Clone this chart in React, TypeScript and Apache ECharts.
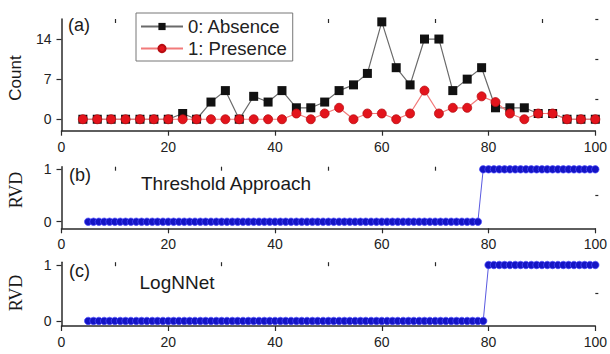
import React, { useEffect, useRef } from "react";
import * as echarts from "echarts";

// Panel (a): histogram-like counts
const xA = [4, 6.7, 9.3, 12, 14.7, 17.3, 20, 22.7, 25.3, 28, 30.7, 33.3, 36, 38.7, 41.3, 44, 46.7, 49.3, 52, 54.7, 57.3, 60, 62.7, 65.3, 68, 70.7, 73.3, 76, 78.7, 81.3, 84, 86.7, 89.3, 92, 94.7, 97.3, 100];
const absence = [0, 0, 0, 0, 0, 0, 0, 1, 0, 3, 5, 0, 4, 3, 5, 2, 2, 3, 5, 6, 8, 17, 9, 6, 14, 14, 5, 7, 9, 2, 2, 2, 1, 1, 0, 0, 0];
const presence = [0, 0, 0, 0, 0, 0, 0, 0, 0, 0, 0, 0, 0, 0, 0, 1, 0, 1, 2, 0, 1, 1, 0, 1, 5, 1, 2, 2, 4, 3, 1, 0, 1, 1, 0, 0, 0];

// Panels (b), (c): RVD
const xR = [
  5, 6, 7, 8, 9, 10, 11, 12, 13, 14,
  15, 16, 17, 18, 19, 20, 21, 22, 23, 24,
  25, 26, 27, 28, 29, 30, 31, 32, 33, 34,
  35, 36, 37, 38, 39, 40, 41, 42, 43, 44,
  45, 46, 47, 48, 49, 50, 51, 52, 53, 54,
  55, 56, 57, 58, 59, 60, 61, 62, 63, 64,
  65, 66, 67, 68, 69, 70, 71, 72, 73, 74,
  75, 76, 77, 78, 79, 80, 81, 82, 83, 84,
  85, 86, 87, 88, 89, 90, 91, 92, 93, 94,
  95, 96, 97, 98, 99, 100,
];
const rvdThreshold = [
  0, 0, 0, 0, 0, 0, 0, 0, 0, 0,
  0, 0, 0, 0, 0, 0, 0, 0, 0, 0,
  0, 0, 0, 0, 0, 0, 0, 0, 0, 0,
  0, 0, 0, 0, 0, 0, 0, 0, 0, 0,
  0, 0, 0, 0, 0, 0, 0, 0, 0, 0,
  0, 0, 0, 0, 0, 0, 0, 0, 0, 0,
  0, 0, 0, 0, 0, 0, 0, 0, 0, 0,
  0, 0, 0, 0, 1, 1, 1, 1, 1, 1,
  1, 1, 1, 1, 1, 1, 1, 1, 1, 1,
  1, 1, 1, 1, 1, 1,
];
const rvdLogNNet = [
  0, 0, 0, 0, 0, 0, 0, 0, 0, 0,
  0, 0, 0, 0, 0, 0, 0, 0, 0, 0,
  0, 0, 0, 0, 0, 0, 0, 0, 0, 0,
  0, 0, 0, 0, 0, 0, 0, 0, 0, 0,
  0, 0, 0, 0, 0, 0, 0, 0, 0, 0,
  0, 0, 0, 0, 0, 0, 0, 0, 0, 0,
  0, 0, 0, 0, 0, 0, 0, 0, 0, 0,
  0, 0, 0, 0, 0, 1, 1, 1, 1, 1,
  1, 1, 1, 1, 1, 1, 1, 1, 1, 1,
  1, 1, 1, 1, 1, 1,
];

const xTicks = [0, 20, 40, 60, 80, 100];
const xMinorTicks = [10, 30, 50, 70, 90];
const countTicks = [0, 7, 14];
const countMinorTicks = [3.5, 10.5, 17.5];
const rvdTicks = [0, 1];
const rvdMinorTicks = [0.5];

const SANS = "Liberation Sans, Arial, sans-serif";
const SERIF = "Liberation Serif, Times New Roman, serif";
const AXIS_COLOR = "#2a2a2a";

const zip = (xs: number[], ys: number[]) => xs.map((x, i) => [x, ys[i]]);

export default function App() {
  const ref = useRef<HTMLDivElement>(null);
  useEffect(() => {
    if (!ref.current) return;
    const chart = echarts.init(ref.current, null, { renderer: "svg" });

    const grids = [
      { left: 61.5, right: 12, top: 19, height: 111.7 },
      { left: 61.5, right: 12, top: 166.7, height: 61.6 },
      { left: 61.5, right: 12, top: 262.2, height: 63.8 },
    ];
    const yRanges = [
      { min: -2, max: 17.5, ticks: countTicks, minor: countMinorTicks },
      { min: -0.125, max: 1.05, ticks: rvdTicks, minor: rvdMinorTicks },
      { min: -0.09, max: 1.05, ticks: rvdTicks, minor: rvdMinorTicks },
    ];

    const mainX = grids.map((_, i) => ({
      type: "value",
      gridIndex: i,
      min: 0,
      max: 100,
      splitLine: { show: false },
      axisLine: { onZero: false, lineStyle: { color: AXIS_COLOR, width: 1.5 } },
      axisTick: { length: 5, customValues: xTicks, lineStyle: { color: AXIS_COLOR, width: 1.2 } },
      axisLabel: { customValues: xTicks, fontSize: 14, color: "#222", fontFamily: SANS, margin: 9 },
    }));
    const minorX = grids.map((_, i) => ({
      type: "value",
      gridIndex: i,
      min: 0,
      max: 100,
      splitLine: { show: false },
      axisLine: { show: false, onZero: false },
      axisTick: { inside: true, length: 4, customValues: xMinorTicks, lineStyle: { color: AXIS_COLOR, width: 1.2 } },
      axisLabel: { show: false },
    }));
    const mainY = yRanges.map((r, i) => ({
      type: "value",
      gridIndex: i,
      min: r.min,
      max: r.max,
      splitLine: { show: false },
      axisLine: { onZero: false, lineStyle: { color: AXIS_COLOR, width: 1.5 } },
      axisTick: { length: 5, customValues: r.ticks, lineStyle: { color: AXIS_COLOR, width: 1.2 } },
      axisLabel: { customValues: r.ticks, fontSize: 14, color: "#222", fontFamily: SANS, margin: 10 },
    }));
    const minorY = yRanges.map((r, i) => ({
      type: "value",
      gridIndex: i,
      min: r.min,
      max: r.max,
      splitLine: { show: false },
      axisLine: { show: false, onZero: false },
      axisTick: { length: 3, customValues: r.minor, lineStyle: { color: AXIS_COLOR, width: 1.2 } },
      axisLabel: { show: false },
    }));

    const text = (t: string, x: number, y: number, size: number, extra: any = {}) => ({
      type: "text",
      x,
      y,
      ...extra,
      style: {
        text: t,
        fontSize: size,
        fontFamily: SANS,
        fill: "#1a1a1a",
        verticalAlign: "middle",
        ...(extra.style || {}),
      },
    });

    chart.setOption({
      animation: false,
      backgroundColor: "#ffffff",
      grid: grids,
      xAxis: [...mainX, ...minorX],
      yAxis: [...mainY, ...minorY],
      legend: {
        data: ["0: Absence", "1: Presence"],
        orient: "vertical",
        left: 136,
        top: 13,
        itemWidth: 42,
        itemHeight: 9,
        itemGap: 3,
        padding: [4, 6, 3, 4],
        borderColor: "#777",
        borderWidth: 1,
        textStyle: { fontSize: 18.5, color: "#222", fontFamily: SANS },
      },
      graphic: [
        text("(a)", 68, 25, 18),
        text("(b)", 69, 175, 18),
        text("(c)", 69, 271, 18),
        text("Threshold Approach", 141, 183, 19),
        text("LogNNet", 139.5, 282, 19),
        text("Count", 15, 78, 17, { rotation: Math.PI / 2, style: { align: "center" } }),
        text("RVD", 16, 190, 18, { rotation: Math.PI / 2, style: { align: "center", fontFamily: SERIF } }),
        text("RVD", 16, 293, 18, { rotation: Math.PI / 2, style: { align: "center", fontFamily: SERIF } }),
      ],
      series: [
        {
          name: "0: Absence",
          type: "line",
          xAxisIndex: 0,
          yAxisIndex: 0,
          data: zip(xA, absence),
          symbol: "rect",
          symbolSize: 9,
          itemStyle: { color: "#111111" },
          lineStyle: { color: "#6a6a6a", width: 1.2 },
        },
        {
          name: "1: Presence",
          type: "line",
          xAxisIndex: 0,
          yAxisIndex: 0,
          data: zip(xA, presence),
          symbol: "circle",
          symbolSize: 9,
          itemStyle: { color: "#e3141c", borderColor: "#b80d12", borderWidth: 0.8 },
          lineStyle: { color: "#f27a7a", width: 1.2 },
        },
        {
          name: "Threshold",
          type: "line",
          xAxisIndex: 1,
          yAxisIndex: 1,
          data: zip(xR, rvdThreshold),
          symbol: "circle",
          symbolSize: 7.5,
          itemStyle: { color: "#1414c4", borderColor: "#4d4dff", borderWidth: 0.7 },
          lineStyle: { color: "#5a5ae0", width: 1 },
        },
        {
          name: "LogNNet",
          type: "line",
          xAxisIndex: 2,
          yAxisIndex: 2,
          data: zip(xR, rvdLogNNet),
          symbol: "circle",
          symbolSize: 7.5,
          itemStyle: { color: "#1414c4", borderColor: "#4d4dff", borderWidth: 0.7 },
          lineStyle: { color: "#5a5ae0", width: 1 },
        },
      ],
    });
    return () => chart.dispose();
  }, []);

  return (
    <div
      ref={ref}
      style={{ position: "fixed", left: 0, top: 0, width: 610, height: 354, background: "#fff" }}
    />
  );
}
